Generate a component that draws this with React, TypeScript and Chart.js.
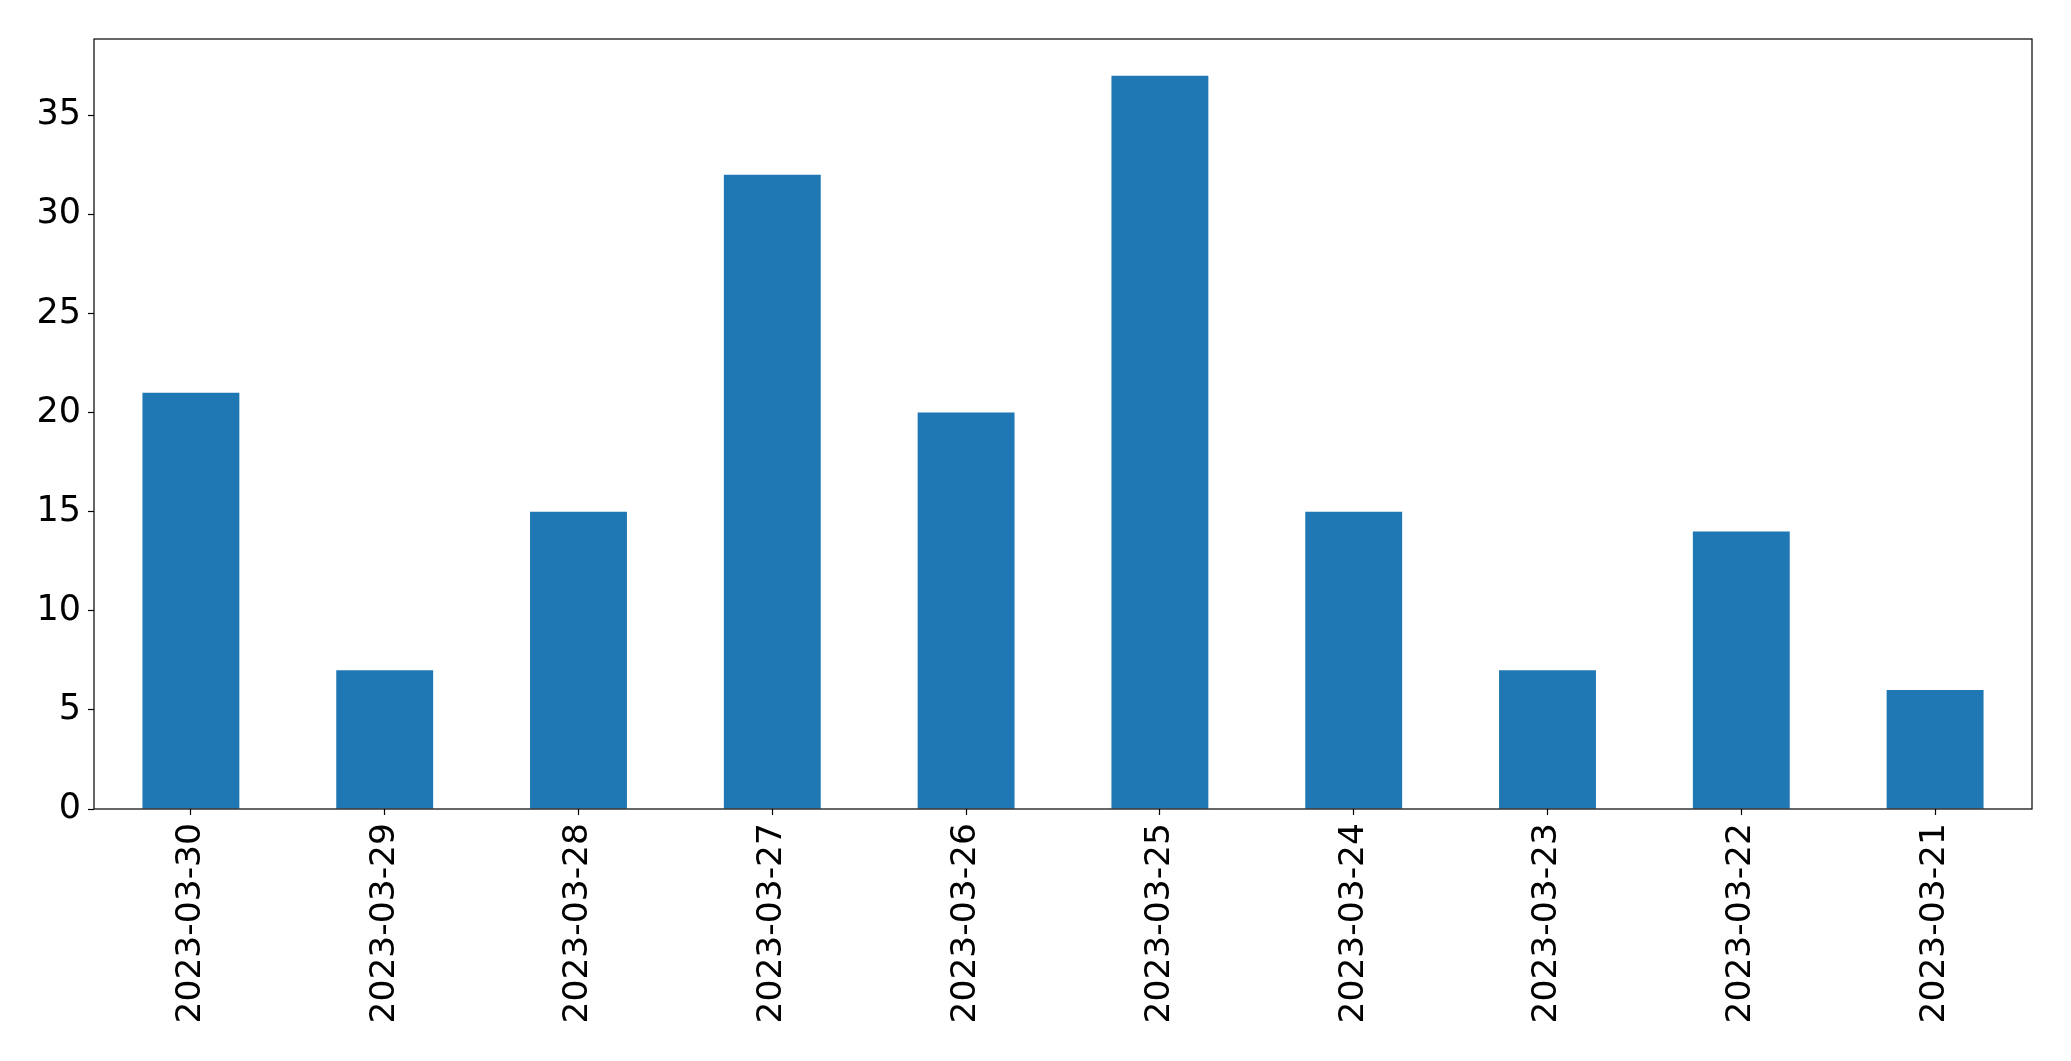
import React, { useEffect, useRef } from "react";
import { Chart, registerables } from "chart.js";

Chart.register(...registerables);

const categories = [
  "2023-03-30", "2023-03-29", "2023-03-28", "2023-03-27", "2023-03-26",
  "2023-03-25", "2023-03-24", "2023-03-23", "2023-03-22", "2023-03-21",
];
const values = [21, 7, 15, 32, 20, 37, 15, 7, 14, 6];
const yTicks = [0, 5, 10, 15, 20, 25, 30, 35];
const yMax = 38.85;

const W = 2071;
const H = 1061;

export default function App() {
  const ref = useRef<HTMLCanvasElement | null>(null);

  useEffect(() => {
    document.body.style.margin = "0";
    const canvas = ref.current;
    if (!canvas) return;
    const framePlugin = {
      id: "frame",
      afterDraw(chart: any) {
        const { ctx, chartArea } = chart;
        ctx.save();
        ctx.strokeStyle = "#000";
        ctx.lineWidth = 1.2;
        ctx.strokeRect(chartArea.left, chartArea.top, chartArea.right - chartArea.left, chartArea.bottom - chartArea.top);
        ctx.restore();
      },
    };
    const chart = new Chart(canvas, {
      type: "bar",
      data: {
        labels: categories,
        datasets: [
          {
            data: values,
            backgroundColor: "#1f77b4",
            borderWidth: 0,
            categoryPercentage: 1,
            barPercentage: 0.5,
          },
        ],
      },
      options: {
        responsive: false,
        animation: false,
        devicePixelRatio: 1,
        layout: { padding: { top: 39, right: 39, left: 0, bottom: 0 } },
        plugins: { legend: { display: false }, tooltip: { enabled: false } },
        scales: {
          x: {
            offset: true,
            grid: { display: true, drawOnChartArea: false, offset: false, tickLength: 6, color: "#000", tickWidth: 1.2 },
            border: { display: false },
            ticks: {
              minRotation: 90,
              maxRotation: 90,
              padding: 8,
              color: "#000",
              font: { family: "DejaVu Sans", size: 34.5 },
            },
            afterFit: (scale: any) => {
              scale.height = 252;
            },
          },
          y: {
            min: 0,
            max: yMax,
            grid: { display: true, drawOnChartArea: false, tickLength: 6, color: "#000", tickWidth: 1.2 },
            border: { display: false },
            ticks: {
              stepSize: 5,
              padding: 7,
              color: "#000",
              font: { family: "DejaVu Sans", size: 35 },
            },
            afterBuildTicks: (scale: any) => {
              scale.ticks = yTicks.map((v) => ({ value: v }));
            },
            afterFit: (scale: any) => {
              scale.width = 94;
            },
          },
        },
      },
      plugins: [framePlugin],
    });
    return () => chart.destroy();
  }, []);

  return <canvas ref={ref} width={W} height={H} style={{ display: "block", width: W, height: H }} />;
}
